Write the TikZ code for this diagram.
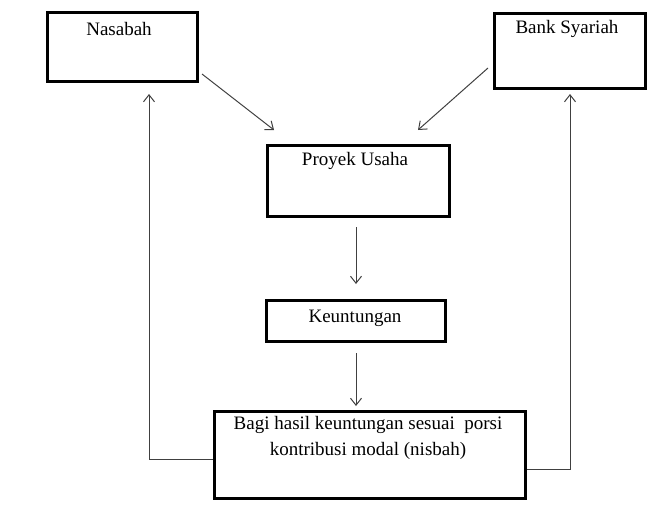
\documentclass[tikz,border=0pt]{standalone}
\usepackage{fontspec}
\setmainfont{Liberation Serif}
\usetikzlibrary{arrows.meta,calc}
\begin{document}
\begin{tikzpicture}[x=1pt,y=-1pt,
  box/.style={draw=black,line width=3pt,inner sep=0pt,anchor=north west},
  lbl/.style={font=\fontsize{19}{25.5}\selectfont,inner sep=0pt,align=center,text=black},
  flow/.style={draw=black!75,line width=1pt,-{Straight Barb[length=7pt,width=11pt]}},
  link/.style={draw=black!75,line width=1pt}]
\useasboundingbox (0,0) rectangle (664,515);

% boxes
\node[box,minimum width=150pt,minimum height=69pt] (nas) at (46,11) {};
\node[box,minimum width=151pt,minimum height=75pt] (bank) at (493,12) {};
\node[box,minimum width=182pt,minimum height=71pt] (proy) at (266,144) {};
\node[box,minimum width=179pt,minimum height=41pt] (keu) at (265,299) {};
\node[box,minimum width=311pt,minimum height=87pt] (bagi) at (213,410) {};

% texts
\node[lbl] (tnas) at (119,29) {Nasabah};
\node[lbl] (tbank) at (567,29) {Bank Syariah};
\node[lbl] (tproy) at (355,161) {Proyek Usaha};
\node[lbl] (tkeu) at (355,318) {Keuntungan};
\node[lbl] (tbagi) at (368,438) {Bagi hasil keuntungan sesuai\ \ porsi\\kontribusi modal (nisbah)};

% free ends of the arrows
\coordinate (a1) at (202,74);
\coordinate (a1e) at (274,130);
\coordinate (a2) at (488,68);
\coordinate (a2e) at (418,130);
\coordinate (a3) at (356,227);
\coordinate (a3e) at (356,284);
\coordinate (a4) at (356,353);
\coordinate (a4e) at (356,406);
\coordinate (l1) at (149,459);
\coordinate (l1e) at (149,94);
\coordinate (r1) at (570,469);
\coordinate (r1e) at (570,94);

% arrows
\draw[flow] (a1) -- (a1e);
\draw[flow] (a2) -- (a2e);
\draw[flow] (a3) -- (a3e);
\draw[flow] (a4) -- (a4e);
\draw[flow] (bagi.west |- l1) -- (l1) -- (l1e);
\draw[flow] (bagi.east |- r1) -- (r1) -- (r1e);
\end{tikzpicture}
\end{document}
